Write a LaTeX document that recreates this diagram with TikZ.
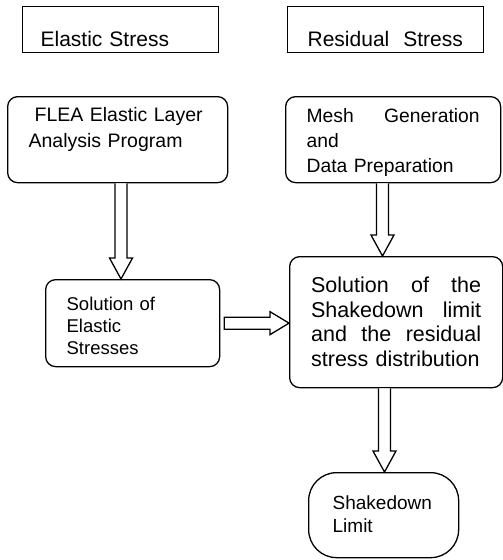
\documentclass[tikz,border=0pt]{standalone}
\usepackage{fontspec}
\setmainfont{Liberation Sans}
\usepackage{tikz}
\usetikzlibrary{calc}

\tikzset{
  plainbox/.style={draw, line width=1.3pt, anchor=north west, inner ysep=0pt, align=left},
  roundbox/.style={plainbox, rounded corners=10pt},
  blockarrow/.style={draw, line width=1.3pt, fill=white, line join=miter},
}

% hollow arrow going down at a given x, from the bottom of #1 to the top of #2
\newcommand{\blockdown}[3]{%
  \draw[blockarrow] let \p1=(#1.south -| #3,0), \p2=(#2.north -| #3,0) in
    (\x1-6pt,\y1) -- (\x1-6pt,\y2+21pt) -- (\x1-11.5pt,\y2+21pt) -- (\x2,\y2)
    -- (\x1+11.5pt,\y2+21pt) -- (\x1+6pt,\y2+21pt) -- (\x1+6pt,\y1);
}
% hollow arrow going right, from #1 to #2
\newcommand{\blockright}[2]{%
  \draw[blockarrow] let \p1=(#1.east), \p2=(#2.west |- #1.east) in
    (\x1+4pt,\y1+6pt) -- (\x2-19pt,\y1+6pt) -- (\x2-19pt,\y1+11.5pt) -- (\x2,\y2)
    -- (\x2-19pt,\y1-11.5pt) -- (\x2-19pt,\y1-6pt) -- (\x1+4pt,\y1-6pt) -- cycle;
}

\begin{document}
\begin{tikzpicture}[x=1pt, y=-1pt]
  \useasboundingbox (0,0) rectangle (503,560);

  % column headings
  \node[plainbox, inner xsep=18pt, text width=160pt, text height=40pt, text depth=6pt,
        font=\fontsize{21}{25}\selectfont] (es) at (22,6) {Elastic Stress};
  \node[plainbox, inner xsep=20pt, text width=156pt, text height=40pt, text depth=6pt,
        font=\fontsize{21}{25}\selectfont] (rs) at (287,6) {Residual\ \ Stress};

  % programs
  \node[roundbox, inner xsep=21pt, text width=178pt, text height=25pt, text depth=61pt,
        font=\fontsize{19.5}{26}\selectfont] (flea) at (7,96)
        {\hspace*{6pt}FLEA Elastic Layer\\Analysis Program};
  \node[roundbox, inner xsep=21pt, text width=173pt, text height=26pt, text depth=60pt,
        font=\fontsize{19.3}{25}\selectfont] (mesh) at (285,96)
        {Mesh\hfill Generation\\and\\Data Preparation};

  % solutions
  \node[roundbox, inner xsep=21pt, text width=132pt, text height=31pt, text depth=56pt,
        font=\fontsize{18.5}{22}\selectfont] (soe) at (45,279)
        {Solution of\\Elastic\\Stresses};
  \node[roundbox, inner xsep=21.5pt, text width=170pt, text height=36pt, text depth=95pt,
        font=\fontsize{21.5}{24.5}\selectfont] (sol) at (289,256)
        {Solution\hfill of\hfill the\\Shakedown\hfill limit\\and\hfill the\hfill residual\\stress distribution};

  % result
  \node[plainbox, rounded corners=28pt, inner xsep=24pt, text width=102pt, text height=37pt,
        text depth=48pt, font=\fontsize{19}{23}\selectfont] (sdl) at (308,472)
        {Shakedown\\Limit};

  % flow
  \blockdown{flea}{soe}{121}
  \blockdown{mesh}{sol}{382.5}
  \blockright{soe}{sol}
  \blockdown{sol}{sdl}{384.5}
\end{tikzpicture}
\end{document}
